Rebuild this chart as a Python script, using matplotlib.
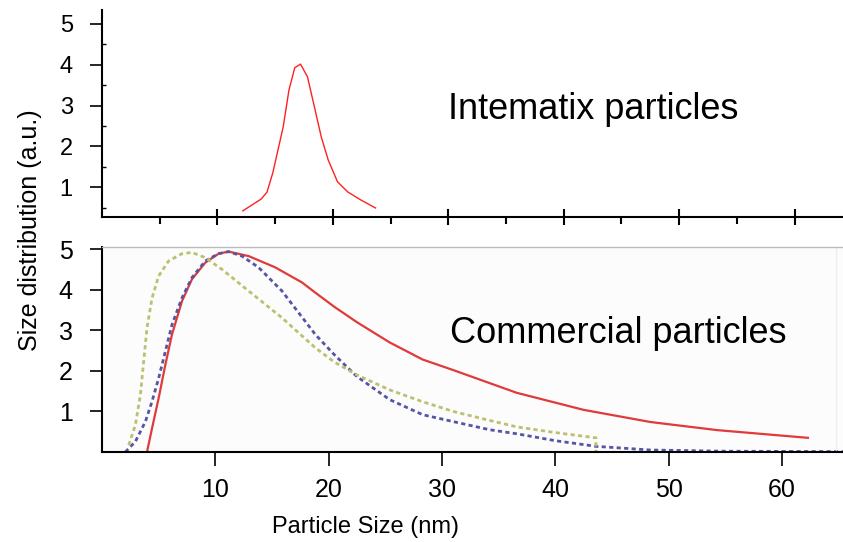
import matplotlib.pyplot as plt
import numpy as np

plt.rcParams['font.family'] = ['Liberation Sans', 'DejaVu Sans']

# Intematix particles (top panel)
int_x = [12.2, 13.8, 14.3, 14.8, 15.7, 16.2, 16.7, 17.2, 17.8, 18.4, 19.0, 19.6, 20.4, 21.3, 22.4, 23.7]
int_y = [0.43, 0.72, 0.89, 1.36, 2.48, 3.38, 3.92, 4.01, 3.70, 2.97, 2.23, 1.67, 1.14, 0.89, 0.70, 0.50]

# Commercial particles (bottom panel)
red_x = [3.97, 4.42, 5.0, 5.59, 6.18, 7.06, 7.94, 9.12, 10.3, 11.17, 12.94, 15.3, 17.65, 18.82,
         20.5, 22.5, 25.4, 28.3, 31.0, 34.2, 36.6, 42.5, 48.4, 54.3, 62.3]
red_y = [0.0, 0.59, 1.33, 2.15, 2.9, 3.72, 4.26, 4.67, 4.89, 4.94, 4.83, 4.55, 4.18, 3.93,
         3.58, 3.2, 2.7, 2.28, 2.02, 1.7, 1.46, 1.04, 0.74, 0.54, 0.35]

blue_x = [2.06, 2.95, 3.83, 4.42, 5.0, 5.59, 6.18, 7.06, 7.94, 9.12, 10.3, 11.17, 12.35, 13.82,
          15.88, 18.82, 20.5, 22.5, 25.4, 28.3, 31.0, 34.2, 36.6, 40.0, 43.6, 48.4, 55.0, 65.4]
blue_y = [0.0, 0.26, 0.75, 1.25, 1.82, 2.48, 3.14, 3.80, 4.3, 4.71, 4.89, 4.94, 4.83, 4.55,
          3.97, 2.9, 2.4, 1.86, 1.29, 0.92, 0.75, 0.55, 0.45, 0.28, 0.14, 0.05, 0.02, 0.01]

green_x = [2.36, 2.95, 3.39, 3.68, 3.97, 4.42, 5.0, 5.88, 7.06, 7.94, 9.12, 10.6, 12.94, 15.88,
           18.82, 20.5, 22.5, 25.4, 28.3, 31.0, 34.2, 36.6, 40.0, 43.6, 43.6]
green_y = [0.17, 0.67, 1.41, 2.24, 3.06, 3.80, 4.34, 4.71, 4.89, 4.92, 4.79, 4.5, 3.97, 3.31,
           2.57, 2.22, 1.9, 1.53, 1.24, 1.0, 0.78, 0.62, 0.48, 0.35, 0.0]

fig = plt.figure(figsize=(8.43, 5.42), dpi=100)

# top panel
ax1 = fig.add_axes([0.121, 0.5996, 0.879, 0.382])
ax1.plot(int_x, int_y, color='#ff2020', lw=1.0)
ax1.set_xlim(0, 64.2)
ax1.set_ylim(0.28, 5.33)
ax1.spines['top'].set_visible(False)
ax1.spines['right'].set_visible(False)
ax1.spines['left'].set_linewidth(1.5)
ax1.spines['bottom'].set_linewidth(1.5)
ax1.set_xticks(np.arange(10, 65, 10))
ax1.set_xticks(np.arange(5, 65, 10), minor=True)
ax1.set_xticklabels([])
ax1.tick_params(axis='x', which='major', direction='inout', length=12, width=1.5)
ax1.tick_params(axis='x', which='minor', direction='out', length=5, width=1.5)
ax1.set_yticks([1, 2, 3, 4, 5])
ax1.set_yticks([0.5, 1.5, 2.5, 3.5, 4.5], minor=True)
ax1.tick_params(axis='y', which='major', direction='out', length=9, width=1.2, labelsize=17, pad=12)
ax1.tick_params(axis='y', which='minor', direction='in', length=3, width=1.0)
ax1.text(0.467, 0.52, 'Intematix particles', transform=ax1.transAxes, fontsize=26,
         va='center')

# bottom panel
ax2 = fig.add_axes([0.121, 0.166, 0.879, 0.378])
ax2.set_facecolor('#fcfcfc')
ax2.plot(red_x, red_y, color='#e03a3a', lw=1.6)
ax2.plot(blue_x, blue_y, color='#5555a5', lw=2.0, dashes=(1.5, 1.2))
ax2.plot(green_x, green_y, color='#bcc070', lw=2.0, dashes=(1.5, 1.2))
ax2.set_xlim(0, 65.4)
ax2.set_ylim(0, 5.05)
ax2.spines['top'].set_color('#bbbbbb')
ax2.spines['top'].set_linewidth(1.0)
ax2.spines['right'].set_visible(False)
ax2.spines['left'].set_linewidth(1.5)
ax2.spines['bottom'].set_linewidth(1.5)
ax2.axvline(64.8, color='#eeeeee', lw=1.0)
ax2.set_xticks(np.arange(10, 65, 10))
ax2.tick_params(axis='x', direction='out', length=10, width=1.2, labelsize=18, pad=9)
ax2.set_yticks([1, 2, 3, 4, 5])
ax2.tick_params(axis='y', direction='out', length=9, width=1.2, labelsize=18, pad=12)
ax2.text(0.47, 0.58, 'Commercial particles', transform=ax2.transAxes, fontsize=26,
         va='center')
ax2.set_xlabel('Particle Size (nm)', fontsize=17, labelpad=10, x=0.355)

fig.text(0.036, 0.576, 'Size distribution (a.u.)', rotation=90, fontsize=18,
         ha='center', va='center')

fig.savefig('out.png', dpi=100)
